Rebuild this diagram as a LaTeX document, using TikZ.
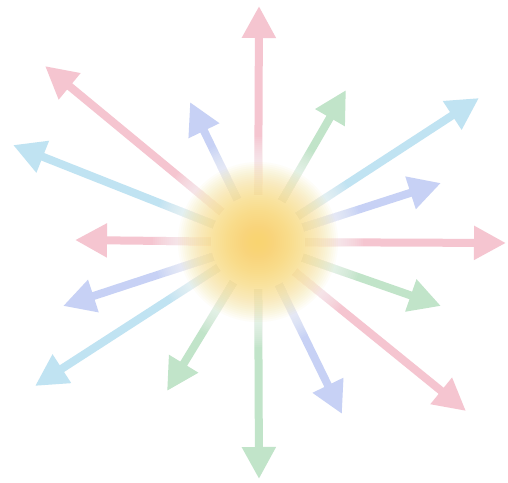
\documentclass[tikz,border=0pt]{standalone}
\usetikzlibrary{arrows.meta}
\definecolor{rpink}{HTML}{F5C5D0}
\definecolor{rsky}{HTML}{C0E3F2}
\definecolor{rperi}{HTML}{C7D1F5}
\definecolor{rgreen}{HTML}{C1E4C9}
\definecolor{sunyellow}{HTML}{F9D45E}
\tikzset{
  ray/.style={line width=8pt, -{Triangle[length=32pt,width=32pt]}},
  glowwhite/.style={fill=white, fill opacity=0.07},
  glowsun/.style={fill=sunyellow, fill opacity=0.045},
}
\begin{document}
\begin{tikzpicture}[x=1pt,y=-1pt]
\fill[white] (0,0) rectangle (508,482);
\useasboundingbox (0,0) rectangle (508,482);
\coordinate (c) at (258,242);
\coordinate (t1) at (259,6);
\coordinate (t2) at (346,90);
\coordinate (t3) at (479,98);
\coordinate (t4) at (441,183);
\coordinate (t5) at (506,243);
\coordinate (t6) at (441,306);
\coordinate (t7) at (466,411);
\coordinate (t8) at (342,414);
\coordinate (t9) at (259,479);
\coordinate (t10) at (167,391);
\coordinate (t11) at (35,386);
\coordinate (t12) at (63,306);
\coordinate (t13) at (75,240);
\coordinate (t14) at (13,145);
\coordinate (t15) at (45,66);
\coordinate (t16) at (190,102);
\draw[ray, rpink] (c) -- (t1);
\draw[ray, rgreen] (c) -- (t2);
\draw[ray, rsky] (c) -- (t3);
\draw[ray, rperi] (c) -- (t4);
\draw[ray, rpink] (c) -- (t5);
\draw[ray, rgreen] (c) -- (t6);
\draw[ray, rpink] (c) -- (t7);
\draw[ray, rperi] (c) -- (t8);
\draw[ray, rgreen] (c) -- (t9);
\draw[ray, rgreen] (c) -- (t10);
\draw[ray, rsky] (c) -- (t11);
\draw[ray, rperi] (c) -- (t12);
\draw[ray, rpink] (c) -- (t13);
\draw[ray, rsky] (c) -- (t14);
\draw[ray, rpink] (c) -- (t15);
\draw[ray, rperi] (c) -- (t16);
\foreach \r in {105,103,...,47} {\fill[glowwhite] (c) circle (\r);}
\fill[white] (c) circle (47);
\foreach \r in {80,78,...,2} {\fill[glowsun] (c) circle (\r);}
\end{tikzpicture}
\end{document}
